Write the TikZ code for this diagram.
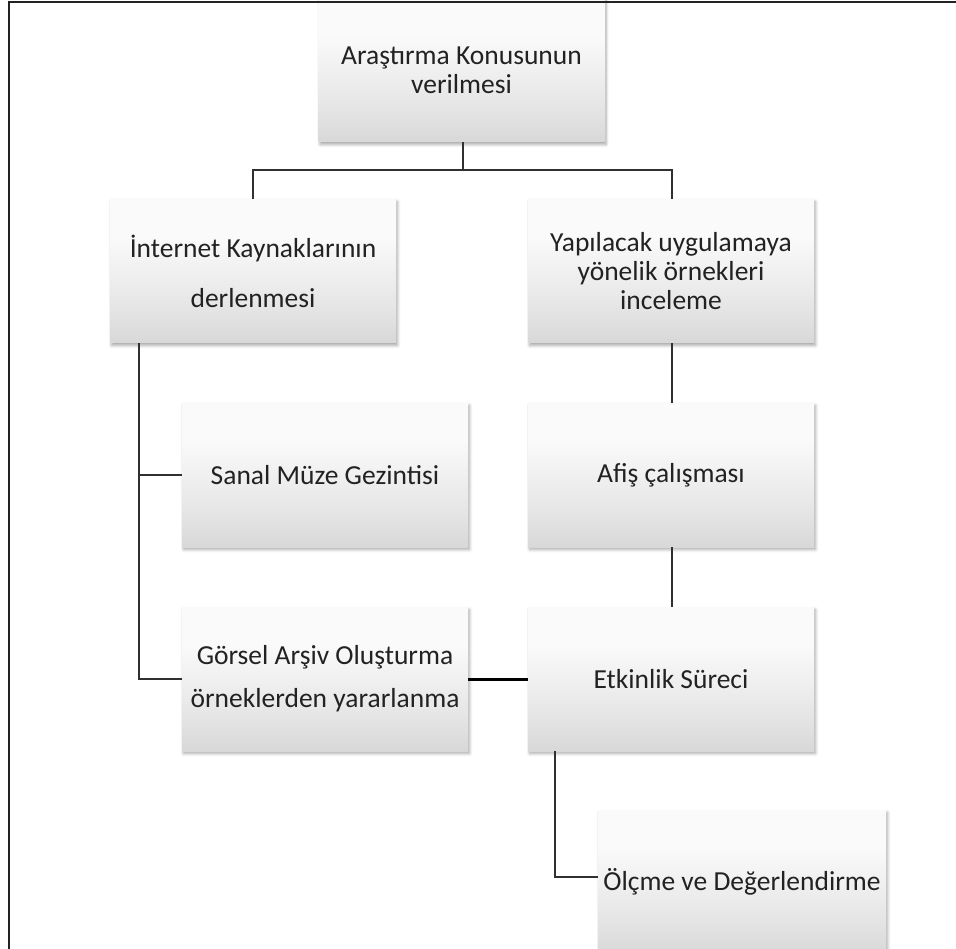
\documentclass[tikz,border=0pt]{standalone}
\usepackage{fontspec}
\setmainfont{Carlito}
\usetikzlibrary{shadows.blur}
\definecolor{txt}{HTML}{222222}
\definecolor{ln}{HTML}{303030}
\definecolor{gbot}{HTML}{BDBDBD}
\definecolor{gmid}{HTML}{E6E6E6}
\definecolor{gtop}{HTML}{FAFAFA}
\pgfdeclareverticalshading{boxshade}{100bp}{color(0bp)=(gbot); color(38bp)=(gmid); color(62bp)=(gtop); color(100bp)=(gtop)}
\tikzset{
  box/.style={minimum width=286pt, minimum height=144pt, inner sep=0pt,
    shading=boxshade, align=center, text=txt,
    font=\fontsize{27.5}{29}\selectfont,
    blur shadow={shadow xshift=1.5pt, shadow yshift=-2.5pt, shadow blur steps=6, shadow blur radius=3pt, shadow opacity=35}},
  conn/.style={draw=ln, line width=2pt},
  thick conn/.style={draw=black, line width=3pt},
  frame/.style={draw=txt, line width=2pt}
}
\begin{document}
\begin{tikzpicture}[x=1pt,y=-1pt]
\useasboundingbox (0,0) rectangle (956,949);
\clip (0,0) rectangle (956,949);
\node[box] (top) at (461.5,70) {Araştırma Konusunun\\verilmesi};
\node[box] (A) at (253,271) {İnternet Kaynaklarının\\[21pt]derlenmesi};
\node[box] (B) at (671,271) {Yapılacak uygulamaya\\yönelik örnekleri\\inceleme};
\node[box] (C) at (325,475) {Sanal Müze Gezintisi};
\node[box] (D) at (325,679) {Görsel Arşiv Oluşturma\\[14pt]örneklerden yararlanma};
\node[box] (E) at (671,475) {Afiş çalışması};
\node[box] (F) at (671,679) {Etkinlik Süreci};
\node[box, minimum width=288pt] (G) at (742,882) {\raisebox{5pt}{Ölçme ve Değerlendirme}};
\coordinate (split) at ([yshift=-28pt]top.south);
\draw[conn] ([xshift=1.5pt]top.south) -- ([xshift=1.5pt]split);
\draw[conn] (A.north) |- ([xshift=1.5pt]split) -| ([xshift=1pt]B.north);
\draw[conn] ([xshift=29pt]A.south west) |- (C.west);
\draw[conn] ([xshift=29pt]A.south west) |- (D.west);
\draw[conn] ([xshift=1pt]B.south) -- ([xshift=1pt]E.north);
\draw[conn] ([xshift=1pt]E.south) -- ([xshift=1pt]F.north);
\draw[thick conn] (D.east) -- (F.west);
\draw[conn] ([xshift=27pt]F.south west) |- ([yshift=5pt]G.west);
\draw[frame] (9,949) -- (9,2) -- (956,2);
\end{tikzpicture}
\end{document}
